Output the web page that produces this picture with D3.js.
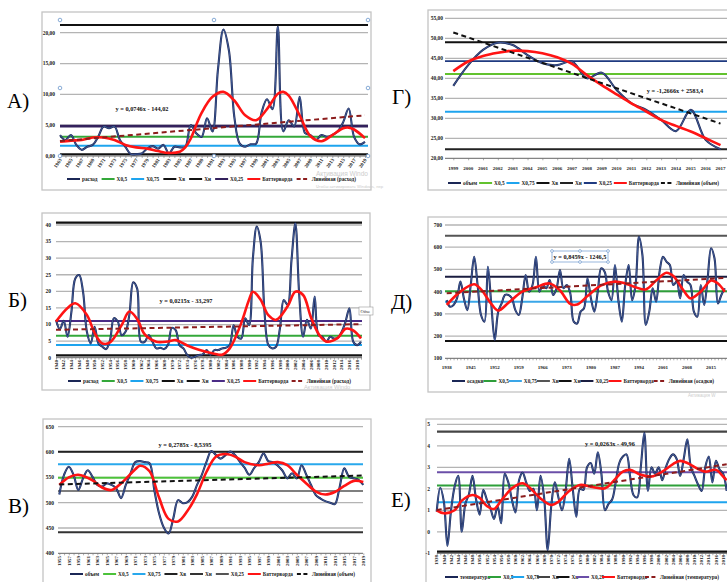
<!DOCTYPE html>
<html>
<head>
<meta charset="utf-8">
<script src="https://cdn.jsdelivr.net/npm/d3@7"></script>
<style>
  html, body { margin: 0; padding: 0; background: #fff; overflow: hidden; }
  svg { display: block; }
</style>
</head>
<body>
<svg id="chart" width="727" height="582"></svg>
<script>
// ---------- А) расход ----------
const yearsA = d3.range(1963, 2020);
const flowA = [3.4,2.6,3.4,1.8,1.0,1.5,1.8,3.1,4.8,4.5,
               4.8,2.6,1.5,0.3,0.3,0.4,1.2,1.6,1.2,1.8,
               0.4,1.5,1.4,1.5,5.0,3.7,3.1,6.1,4.0,14.0,
               20.5,17.2,6.4,2.0,1.5,1.9,2.0,7.0,9.2,7.6,
               21.0,4.0,5.8,4.8,9.6,3.7,3.4,2.6,3.4,3.1,
               3.4,4.0,5.5,7.7,3.1,1.9,2.3];
const smoothA = [[1963,2.3],[1965,2.5],[1967,2.6],[1969,3.0],[1971,3.0],[1973,2.6],[1975,1.8],[1977,1.4],
                 [1979,1.2],[1981,0.8],[1983,0.5],[1985,0.7],[1986,1.4],[1987,2.8],[1988,5.0],[1989,7.0],
                 [1991,9.6],[1993,10.4],[1995,9.0],[1997,6.6],[1999,5.8],[2001,7.6],[2003,10.1],[2004,10.4],
                 [2005,9.8],[2007,6.6],[2009,3.2],[2011,2.4],[2013,3.4],[2015,4.5],[2016,4.6],[2017,4.3],[2019,2.9]];
const levelsA = [21.25, 4.85, 3.13, 1.67, 0.3];       // Хв, Х0,25, Х0,5, Х0,75, Хн
const trendA = [0.0746, -144.02];
const eqA = "y = 0,0746x - 144,02";
const yTicksA = [0, 5, 10, 15, 20];
const xLabelsA = yearsA.filter((d, i) => i % 2 === 0);
const legendA = ["расход", "Х0,5", "Х0,75", "Хв", "Хн", "Х0,25", "Баттерворда", "Линейная (расход)"];

// ---------- Б) расход ----------
const yearsB = d3.range(1940, 2020);
const flowB = [11.4,8.6,11.1,6.3,13.9,23.9,24.9,19.9,7.8,4.3,
               9.3,4.3,3.3,2.6,5.3,11.9,10.9,6.8,7.8,12.9,
               22.7,20.9,4.8,4.8,6.8,4.8,2.8,3.0,2.6,3.8,
               9.0,8.3,3.8,2.8,0.8,0.0,0.3,0.8,1.0,2.3,
               0.8,2.3,2.3,2.8,3.0,3.8,9.8,6.3,5.8,11.9,
               9.8,30.0,39.5,35.0,13.9,3.8,2.8,3.3,8.8,17.4,
               15.9,29.4,40.5,18.9,6.3,11.4,8.8,18.4,6.8,6.3,
               4.8,6.3,5.8,6.0,7.8,10.9,14.9,4.8,3.8,4.8];
const smoothB = [[1940,10.9],[1943,15.0],[1945,16.4],[1948,12.9],[1950,7.5],[1952,4.3],[1954,4.6],[1957,9.8],
                 [1959,13.9],[1961,11.7],[1963,7.0],[1966,4.8],[1969,4.9],[1971,5.3],[1974,3.7],[1977,2.4],
                 [1981,1.2],[1983,0.9],[1985,2.8],[1988,10.5],[1990,17.5],[1991,19.9],[1993,17.5],[1995,12.8],
                 [1997,11.4],[2000,15.5],[2002,19.9],[2004,18.9],[2006,12.3],[2008,7.2],[2010,4.9],[2013,6.0],
                 [2015,8.7],[2017,8.2],[2019,5.8]];
const levelsB = [40.7, 11.05, 6.6, 3.8, 0.7];
const trendB = [0.0215, -33.297];
const eqB = "y = 0,0215x - 33,297";
const yTicksB = [0, 5, 10, 15, 20, 25, 30, 35, 40];
const xLabelsB = yearsB.filter((d, i) => i % 2 === 0);
const legendB = ["расход", "Х0,5", "Х0,75", "Хв", "Хн", "Х0,25", "Баттерворда", "Линейная (расход)"];

// ---------- В) объем ----------
const yearsV = d3.range(1955, 2020);
const flowV = [516,555,571,555,525,548,564,551,535,532,
               538,535,528,509,535,558,580,582,580,578,
               525,479,451,439,469,505,499,501,512,535,
               555,581,602,594,587,594,601,594,581,569,
               555,568,580,597,582,580,573,563,548,558,
               548,574,555,535,515,508,503,500,497,530,
               568,551,548,545,535];
const smoothV = [[1955,535],[1957,550],[1959,555],[1962,544],[1964,530],[1966,525],[1968,538],[1971,566],
                 [1972,573],[1974,562],[1976,510],[1978,468],[1980,463],[1982,484],[1984,517],[1986,561],
                 [1988,591],[1990,596],[1992,591],[1994,580],[1997,574],[1999,577],[2001,580],[2003,574],
                 [2005,555],[2007,538],[2009,522],[2011,516],[2013,521],[2015,533],[2017,543],[2019,541]];
const levelsV = [600.5, 523, 549.3, 575.8, 441.6];
const trendV = [0.2785, -8.5395];
const eqV = "y = 0,2785x - 8,5395";
const yTicksV = [400, 450, 500, 550, 600, 650];
const xLabelsV = yearsV.filter((d, i) => i % 2 === 0);
const legendV = ["объем", "Х0,5", "Х0,75", "Хв", "Хн", "Х0,25", "Баттерворда", "Линейная (объем)"];

// ---------- Г) объем ----------
const yearsG = d3.range(1999, 2018);
const flowG = [38.1,43.3,47.1,48.9,48.3,45.8,43.75,43.3,44.2,40.0,41.4,37.1,33.75,32.1,29.6,26.8,32.1,24.6,22.25];
const smoothG = [[1999,41.8],[2000,44.2],[2001,45.6],[2002,46.4],[2003,46.9],[2004,46.8],[2005,46.25],[2006,45.25],
                 [2007,43.6],[2008,40.8],[2009,38.3],[2010,36.0],[2011,33.75],[2012,31.7],[2013,29.6],[2014,28.1],
                 [2015,26.7],[2016,25.0],[2017,23.3]];
const levelsG = [49.0, 44.3, 41.1, 31.65, 22.25];
const trendG = [-1.2666, 2583.4];
const eqG = "y = -1,2666x + 2583,4";
const yTicksG = [20, 25, 30, 35, 40, 45, 50, 55];
const xLabelsG = yearsG;
const legendG = ["объем", "Х0,5", "Х0,75", "Хв", "Хн", "Х0,25", "Баттерворда", "Линейная (объем)"];

// ---------- Д) осадки ----------
const yearsD = d3.range(1938, 2020);
const flowD = [362,332,340,370,445,370,317,430,557,430,
               295,265,512,340,182,310,347,385,385,370,
               317,295,370,475,400,430,557,400,430,415,
               452,385,415,497,415,430,392,265,257,310,
               325,460,370,310,400,505,490,400,362,520,
               362,265,430,520,362,430,647,565,250,310,
               415,355,490,557,535,520,430,445,370,475,
               445,430,310,287,430,340,460,595,550,347,
               385,415];
const smoothD = [[1938,340],[1942,400],[1946,433],[1948,410],[1951,345],[1953,315],[1956,350],[1960,400],
                 [1964,420],[1968,437],[1971,405],[1974,345],[1976,342],[1979,380],[1983,428],[1987,445],
                 [1990,437],[1993,420],[1996,410],[1999,450],[2002,485],[2004,470],[2007,405],[2009,370],
                 [2012,400],[2015,450],[2017,437],[2019,400]];
const levelsD = [652, 467, 402, 354, 178];
const trendD = [0.8459, -1246.5];
const eqD = "y = 0,8459x - 1246,5";
const yTicksD = [100, 200, 300, 400, 500, 600, 700];
const xLabelsD = [1938, 1945, 1952, 1959, 1966, 1973, 1980, 1987, 1994, 2001, 2008, 2015];
const legendD = ["осадки", "Х0,5", "Х0,75", "Хв", "Хн", "Х0,25", "Баттерворда", "Линейная (осадки)"];

// ---------- Е) температура ----------
const yearsE = d3.range(1938, 2020);
const flowE = [0.94,2.05,1.4,-0.65,1.0,2.1,2.6,0.0,1.3,1.75,
               2.6,1.5,0.8,1.95,1.5,1.1,0.6,1.2,0.4,2.7,
               2.3,1.5,0.9,2.4,2.75,2.3,1.9,2.0,1.0,2.6,
               1.6,-0.85,1.2,2.3,1.6,1.0,1.9,3.4,2.0,0.7,
               2.0,1.95,3.0,3.2,2.7,3.7,2.7,1.0,1.3,1.5,
               2.3,3.2,3.5,3.6,2.6,1.7,1.6,3.0,4.6,1.9,
               3.0,2.7,3.0,2.4,3.0,3.4,3.6,3.4,2.6,3.4,
               4.3,3.0,2.6,2.2,1.9,3.0,3.5,2.3,3.3,2.9,
               2.7,1.9];
const smoothE = [[1938,1.0],[1940,0.86],[1943,1.0],[1945,1.45],[1948,1.71],[1950,1.58],[1952,1.2],[1954,1.06],
                 [1956,1.45],[1959,2.02],[1962,2.26],[1964,2.05],[1967,1.55],[1970,1.25],[1972,1.4],[1975,1.9],
                 [1978,2.18],[1981,2.1],[1985,2.02],[1987,2.3],[1990,2.8],[1992,2.88],[1995,2.65],[1998,2.57],
                 [2001,2.8],[2004,3.15],[2006,3.3],[2008,3.2],[2011,2.92],[2013,2.8],[2016,2.88],[2018,2.57],[2019,2.4]];
const levelsE = [4.66, 2.77, 2.15, 1.37, -0.92];
const trendE = [0.0263, -49.96];
const eqE = "y = 0,0263x - 49,96";
const yTicksE = [-1, 0, 1, 2, 3, 4, 5];
const xLabelsE = yearsE.filter((d, i) => i % 2 === 0);
const legendE = ["температура", "Х0,5", "Х0,75", "Хв", "Хн", "Х0,25", "Баттерворда", "Линейная (температура)"];

// ---------- styling ----------
const FONT = "'Liberation Serif', 'Times New Roman', serif";
const NAVY = "#1b2756";
const NAVY_HI = "#5d7fc4";
const RED = "#ff1414";
const GREEN = "#34a83a";
const BLUE = "#1ea4ee";
const GRID = "#b4b4b4";
const DARKRED = "#8c1c1c";

const svg = d3.select("#chart");

const dec2 = v => d3.format(".2f")(v).replace(".", ",").replace("−", "-");
const int0 = v => d3.format("d")(v).replace("−", "-");

const panels = [
  { letter: "А)", letterXY: [7, 108], frame: [42, 12, 329, 178],
    years: yearsA, values: flowA, smooth: smoothA, levels: levelsA,
    levelColors: ["#111", "#33215c", GREEN, BLUE, "#111"], levelWidths: [2, 2.6, 2, 2, 2],
    trend: trendA, trendColor: DARKRED, eq: eqA, eqXY: [142, 111],
    xDomain: [1963, 2019], xRange: [60, 365], plotX: [60, 368],
    yDomain: [0, 20], yRange: [156, 32.7], yTicks: yTicksA, yFmt: dec2, yLabelX: 55,
    xLabels: xLabelsA, xMode: "diag", xLabelY: 160,
    legend: legendA, legendY: 179, legendSpan: [67, 356], handles: [20, 156] },
  { letter: "Б)", letterXY: [8, 307], frame: [42, 213, 328, 177],
    years: yearsB, values: flowB, smooth: smoothB, levels: levelsB,
    levelColors: ["#111", "#4a2c86", GREEN, BLUE, "#111"], levelWidths: [2.2, 2, 2, 2, 2.2],
    trend: trendB, trendColor: DARKRED, eq: eqB, eqXY: [186, 303],
    xDomain: [1940, 2019], xRange: [56, 361], plotX: [56, 362],
    yDomain: [0, 40], yRange: [357.7, 225], yTicks: yTicksB, yFmt: int0, yLabelX: 51,
    xLabels: xLabelsB, xMode: "vert", xLabelY: 360,
    legend: legendB, legendY: 381, legendSpan: [68, 351] },
  { letter: "В)", letterXY: [8, 513], frame: [43, 419, 328, 175],
    years: yearsV, values: flowV, smooth: smoothV, levels: levelsV,
    levelColors: ["#222", "#555", "#4cc23a", "#29a8ec", "#333"], levelWidths: [2, 1.6, 2, 2, 2],
    trend: trendV, trendColor: "#111", eq: eqV, eqXY: [185, 447],
    xDomain: [1955, 2019], xRange: [59.3, 363.3], plotX: [58, 363],
    yDomain: [400, 650], yRange: [553.3, 426.7], yTicks: yTicksV, yFmt: int0, yLabelX: 54,
    xLabels: xLabelsV, xMode: "vert", xLabelY: 556,
    legend: legendV, legendY: 574, legendSpan: [70, 355] },
  { letter: "Г)", letterXY: [392, 104], frame: [428, 10, 320, 180],
    years: yearsG, values: flowG, smooth: smoothG, levels: levelsG,
    levelColors: ["#111", "#1f3a80", "#62c22e", BLUE, "#222"], levelWidths: [2, 1.6, 2, 2, 2],
    trend: trendG, trendColor: "#111", eq: eqG, eqXY: [675, 93],
    xDomain: [1999, 2017], xRange: [453.3, 720.5], plotX: [445, 727],
    yDomain: [20, 55], yRange: [158.3, 18.3], yTicks: yTicksG, yFmt: dec2, yLabelX: 443,
    xLabels: xLabelsG, xMode: "flat", xLabelY: 170,
    legend: legendG, legendY: 183, legendSpan: [448, 719] },
  { letter: "Д)", letterXY: [391, 309], frame: [428, 217, 320, 175],
    years: yearsD, values: flowD, smooth: smoothD, levels: levelsD,
    levelColors: ["#555", "#1a1d40", "#2e9e3a", "#3aa6e8", "#111"], levelWidths: [2, 2, 2, 2, 2],
    trend: trendD, trendColor: DARKRED, eq: eqD, eqXY: [580, 259], eqBox: true,
    xDomain: [1938, 2019], xRange: [446.7, 724.8], plotX: [445, 727],
    yDomain: [100, 700], yRange: [358.3, 225], yTicks: yTicksD, yFmt: int0, yLabelX: 442,
    xLabels: xLabelsD, xMode: "flat", xLabelY: 369,
    legend: legendD, legendY: 381, legendSpan: [452, 714] },
  { letter: "Е)", letterXY: [391, 507], frame: [426, 419, 320, 175],
    years: yearsE, values: flowE, smooth: smoothE, levels: levelsE,
    levelColors: ["#444", "#6b4fa8", "#2ea03a", BLUE, "#111"], levelWidths: [2.4, 2, 2, 2, 2.4],
    trend: trendE, trendColor: DARKRED, eq: eqE, eqXY: [610, 446],
    xDomain: [1938, 2019], xRange: [436.7, 726.7], plotX: [437, 727],
    yDomain: [-1, 5], yRange: [553.3, 424.3], yTicks: yTicksE, yFmt: int0, yLabelX: 430,
    xLabels: xLabelsE, xMode: "vert", xLabelY: 555,
    legend: legendE, legendY: 577, legendSpan: [445, 719] }
];

function drawPanel(p) {
  const g = svg.append("g");
  const [fx, fy, fw, fh] = p.frame;
  const x = d3.scaleLinear().domain(p.xDomain).range(p.xRange);
  const y = d3.scaleLinear().domain(p.yDomain).range(p.yRange);
  const [px0, px1] = p.plotX;

  // chart area border
  g.append("rect").attr("x", fx).attr("y", fy).attr("width", fw).attr("height", fh)
    .attr("fill", "#fff").attr("stroke", "#c4c4c4").attr("stroke-width", 1.3);

  // panel letter
  svg.append("text").attr("x", p.letterXY[0]).attr("y", p.letterXY[1])
    .attr("font-family", FONT).attr("font-size", 21).attr("fill", "#000").text(p.letter);

  // horizontal gridlines
  g.append("g").selectAll("line").data(p.yTicks.slice(1)).join("line")
    .attr("x1", px0).attr("x2", px1)
    .attr("y1", d => y(d)).attr("y2", d => y(d))
    .attr("stroke", GRID).attr("stroke-width", 1.3);

  // value axis labels
  g.append("g").selectAll("text").data(p.yTicks).join("text")
    .attr("x", p.yLabelX).attr("y", d => y(d) + 1.9)
    .attr("text-anchor", "end").attr("font-family", FONT).attr("font-weight", "bold")
    .attr("font-size", 5.5).attr("fill", "#222").text(p.yFmt);

  // category axis with yearly ticks
  const base = y(p.yDomain[0]);
  g.append("line").attr("x1", px0).attr("x2", px1).attr("y1", base).attr("y2", base)
    .attr("stroke", "#666").attr("stroke-width", 1);
  const ax = g.append("g").attr("transform", `translate(0,${base})`)
    .call(d3.axisBottom(x).tickValues(p.years).tickSize(2).tickSizeOuter(0).tickFormat(""));
  ax.select(".domain").remove();
  ax.selectAll(".tick line").attr("stroke", "#777").attr("stroke-width", 0.6);

  // category labels
  const lab = g.append("g").attr("font-family", FONT).attr("font-weight", "bold")
    .attr("font-size", 5).attr("fill", "#222");
  lab.selectAll("text").data(p.xLabels).join("text")
    .attr("transform", d => {
      if (p.xMode === "diag") return `translate(${x(d) + 2},${p.xLabelY}) rotate(-55)`;
      if (p.xMode === "vert") return `translate(${x(d) + 1.7},${p.xLabelY}) rotate(-90)`;
      return `translate(${x(d)},${p.xLabelY})`;
    })
    .attr("text-anchor", p.xMode === "flat" ? "middle" : "end")
    .text(d => d);

  // quantile levels
  g.append("g").selectAll("line").data(p.levels).join("line")
    .attr("x1", px0).attr("x2", px1)
    .attr("y1", d => y(d)).attr("y2", d => y(d))
    .attr("stroke", (d, i) => p.levelColors[i])
    .attr("stroke-width", (d, i) => p.levelWidths[i]);

  // observed series
  const line = d3.line().x(d => x(d[0])).y(d => y(d[1])).curve(d3.curveCatmullRom.alpha(0.5));
  const obs = p.years.map((yr, i) => [yr, p.values[i]]);
  g.append("path").attr("d", line(obs)).attr("fill", "none")
    .attr("stroke", NAVY).attr("stroke-width", 2.1);
  g.append("path").attr("d", line(obs)).attr("fill", "none")
    .attr("stroke", NAVY_HI).attr("stroke-width", 0.6);

  // Butterworth filtered curve
  g.append("path").attr("d", line(p.smooth)).attr("fill", "none")
    .attr("stroke", RED).attr("stroke-width", 2.6);

  // linear trend
  const t0 = p.years[0], t1 = p.years[p.years.length - 1];
  const tr = yr => p.trend[0] * yr + p.trend[1];
  g.append("line").attr("x1", x(t0)).attr("x2", x(t1))
    .attr("y1", y(tr(t0))).attr("y2", y(tr(t1)))
    .attr("stroke", p.trendColor).attr("stroke-width", 2)
    .attr("stroke-dasharray", "5,3.5");

  // trend equation
  if (p.eqBox) {
    const bx = p.eqXY[0] - 28, by = p.eqXY[1] - 8, bw = 56, bh = 11;
    g.append("rect").attr("x", bx).attr("y", by).attr("width", bw).attr("height", bh)
      .attr("fill", "#fff").attr("stroke", "#7fa6d4").attr("stroke-width", 0.8);
    const hs = [[bx, by], [bx + bw / 2, by], [bx + bw, by], [bx, by + bh], [bx + bw / 2, by + bh], [bx + bw, by + bh]];
    g.append("g").selectAll("circle").data(hs).join("circle")
      .attr("cx", d => d[0]).attr("cy", d => d[1]).attr("r", 1.4)
      .attr("fill", "#fff").attr("stroke", "#6b97cc").attr("stroke-width", 0.7);
  }
  g.append("text").attr("x", p.eqXY[0]).attr("y", p.eqXY[1])
    .attr("text-anchor", "middle").attr("font-family", FONT).attr("font-weight", "bold")
    .attr("font-size", 6.3).attr("fill", "#111").text(p.eq);

  // plot-area selection handles
  if (p.handles) {
    const [ht, hb] = p.handles, hm = (ht + hb) / 2, xm = (px0 + px1) / 2;
    const hs = [[px0, ht], [xm, ht], [px1, ht], [px0, hm], [px1, hm], [px0, hb], [xm, hb], [px1, hb]];
    g.append("g").selectAll("circle").data(hs).join("circle")
      .attr("cx", d => d[0]).attr("cy", d => d[1]).attr("r", 1.8)
      .attr("fill", "#fff").attr("stroke", "#6b97cc").attr("stroke-width", 0.8);
  }

  // legend
  const swatch = [NAVY, p.levelColors[2], p.levelColors[3], p.levelColors[0], p.levelColors[4], p.levelColors[1], RED, p.trendColor];
  const lg = g.append("g").attr("font-family", FONT).attr("font-weight", "bold")
    .attr("font-size", 5.3).attr("fill", "#222");
  const items = p.legend.map((name, i) => {
    const t = lg.append("text").attr("y", p.legendY + 1.9).text(name);
    return { t, w: t.node().getComputedTextLength(), color: swatch[i], dashed: i === p.legend.length - 1 };
  });
  const sw = 13, gap = 2;
  const natural = d3.sum(items, d => d.w + sw + gap);
  const spare = (p.legendSpan[1] - p.legendSpan[0] - natural) / (items.length - 1);
  let cx = p.legendSpan[0];
  items.forEach(it => {
    lg.append("line").attr("x1", cx).attr("x2", cx + sw)
      .attr("y1", p.legendY).attr("y2", p.legendY)
      .attr("stroke", it.color).attr("stroke-width", 2)
      .attr("stroke-dasharray", it.dashed ? "4,2.5" : null);
    it.t.attr("x", cx + sw + gap);
    cx += sw + gap + it.w + spare;
  });
}

panels.forEach(drawPanel);

// system notice overlay
const notice = svg.append("g").attr("font-family", "'Liberation Sans', Arial, sans-serif").attr("fill", "#cdcdcd");
notice.append("text").attr("x", 316).attr("y", 175.5).attr("font-size", 6.5).text("Активация Windo");
notice.append("text").attr("x", 316).attr("y", 187.5).attr("font-size", 4.2).text("Чтобы активировать Windows, пер");
notice.append("text").attr("x", 304).attr("y", 389.3).attr("font-size", 5.8).text("Активация Windo");
notice.append("text").attr("x", 688).attr("y", 396.5).attr("font-size", 4.5).text("Активация W");

// hover label near right edge of Б
const tip = svg.append("g");
tip.append("rect").attr("x", 359).attr("y", 307).attr("width", 14).attr("height", 8)
  .attr("fill", "#fff").attr("stroke", "#999").attr("stroke-width", 0.6);
tip.append("text").attr("x", 360.5).attr("y", 313).attr("font-family", FONT)
  .attr("font-size", 4.5).attr("fill", "#333").text("Объе");
</script>
</body>
</html>
